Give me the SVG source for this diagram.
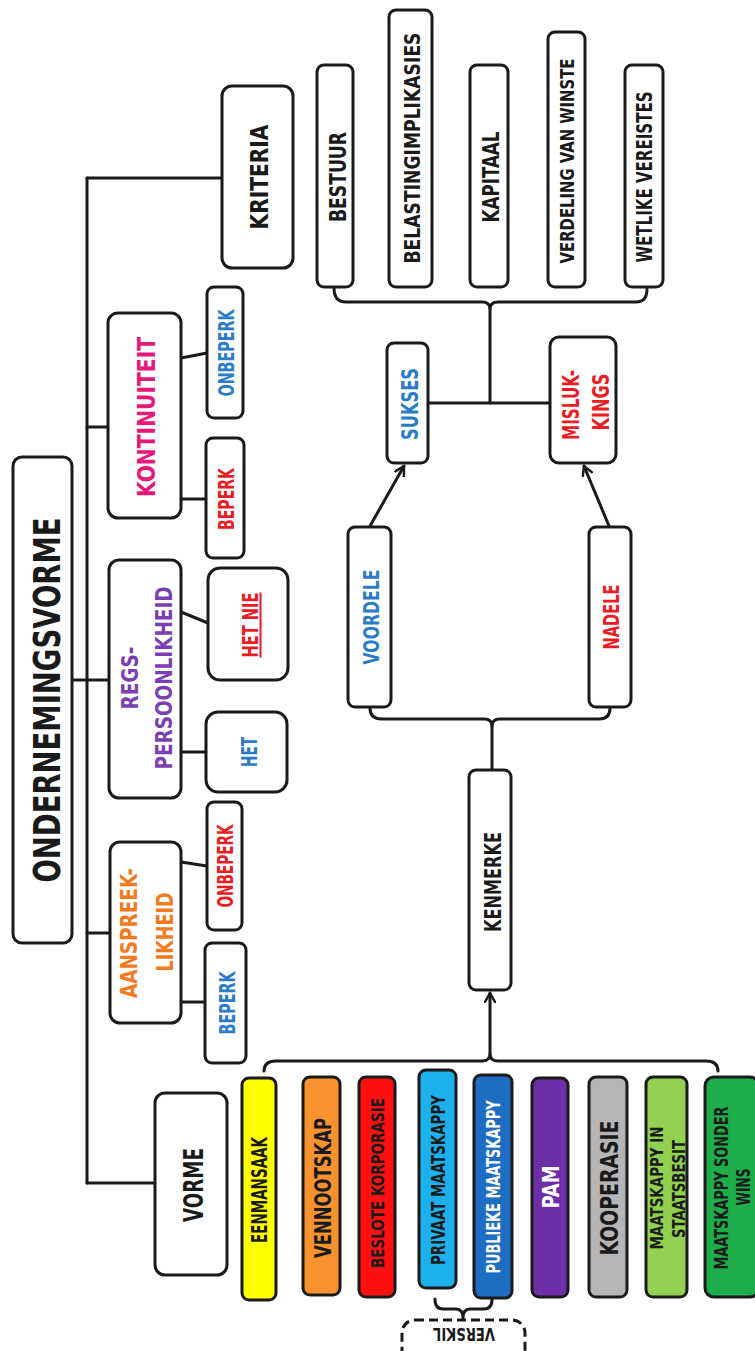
<svg xmlns="http://www.w3.org/2000/svg" width="755" height="1351" viewBox="0 0 755 1351">
<style>
.box{fill:#fff;stroke:#1a1a1a;stroke-width:3;stroke-linejoin:round}
.form{stroke:#1a1a1a;stroke-width:3;stroke-linejoin:round}
.t{font-family:'DejaVu Sans Condensed','DejaVu Sans',sans-serif;font-weight:bold;text-anchor:middle;fill:#1a1a1a}
.ln{fill:none;stroke:#1a1a1a;stroke-width:3;stroke-linecap:round;stroke-linejoin:round}
.blue{fill:#2a7cc9}.red{fill:#ec1c24}.orange{fill:#f37b1f}.purple{fill:#7a3fb2}.magenta{fill:#e6197a}.white{fill:#fff}
</style>
<defs>
<marker id="arr" viewBox="0 0 12 12" refX="10" refY="6" markerWidth="12" markerHeight="12" markerUnits="userSpaceOnUse" orient="auto">
<path d="M1,1 L10,6 L1,11" fill="none" stroke="#1a1a1a" stroke-width="2.5" stroke-linecap="round" stroke-linejoin="round"/>
</marker>
</defs>
<rect width="755" height="1351" fill="#fff"/>

<g id="connectors">
<path class="ln" d="M87,178 V1183"/>
<path class="ln" d="M87,178 H222"/>
<path class="ln" d="M87,427 H108"/>
<path class="ln" d="M68,680 H109"/>
<path class="ln" d="M87,933 H110"/>
<path class="ln" d="M87,1183 H155"/>
<path class="ln" d="M181,358 L207,353"/>
<path class="ln" d="M181,499 H206"/>
<path class="ln" d="M181,612 L208,623"/>
<path class="ln" d="M181,752 H206"/>
<path class="ln" d="M181,862 L207,866"/>
<path class="ln" d="M181,1002 H205"/>
<path class="ln" d="M334,288 Q334,302 346,302 L482,302 Q490,302 490,309 Q490,302 498,302 L636,302 Q647,302 647,289"/>
<path class="ln" d="M490,309 V403"/>
<path class="ln" d="M428,403 H550"/>
<path class="ln" d="M370,526 L404,466" marker-end="url(#arr)"/>
<path class="ln" d="M609,526 L584,466" marker-end="url(#arr)"/>
<path class="ln" d="M370,708 Q370,719 382,719 L484,719 Q492,719 492,726 Q492,719 500,719 L599,719 Q610,719 610,708"/>
<path class="ln" d="M492,726 V770"/>
<path class="ln" d="M264,1071 Q264,1061 276,1061 L482,1061 Q490,1061 490,1054 Q490,1061 498,1061 L706,1061 Q718,1061 718,1071"/>
<path class="ln" d="M490,1054 V993" marker-end="url(#arr)"/>
<path class="ln" d="M435,1299 Q435,1309 443,1309 L456,1309 Q463,1309 463,1318 Q463,1309 470,1309 L484,1309 Q492,1309 492,1299"/>
</g>

<g id="ondernemingsvorme">
<rect class="box" x="13" y="457" width="59" height="486" rx="9"/>
<text class="t" transform="translate(59.5,700) rotate(-90)" font-size="37" textLength="365" lengthAdjust="spacingAndGlyphs">ONDERNEMINGSVORME</text>
</g>

<g id="kriteria">
<rect class="box" x="222" y="86" width="71" height="182" rx="10"/>
<text class="t" transform="translate(268,177) rotate(-90)" font-size="24.7" textLength="105" lengthAdjust="spacingAndGlyphs">KRITERIA</text>
</g>
<g id="bestuur">
<rect class="box" x="317" y="65" width="36" height="222" rx="7"/>
<text class="t" transform="translate(345.5,177) rotate(-90)" font-size="23.3" textLength="90" lengthAdjust="spacingAndGlyphs">BESTUUR</text>
</g>
<g id="belasting">
<rect class="box" x="389" y="10" width="43" height="277" rx="7"/>
<text class="t" transform="translate(420,148) rotate(-90)" font-size="21" textLength="231" lengthAdjust="spacingAndGlyphs">BELASTINGIMPLIKASIES</text>
</g>
<g id="kapitaal">
<rect class="box" x="470" y="65" width="38" height="222" rx="7"/>
<text class="t" transform="translate(498.5,177) rotate(-90)" font-size="23.3" textLength="91" lengthAdjust="spacingAndGlyphs">KAPITAAL</text>
</g>
<g id="verdeling">
<rect class="box" x="548" y="32" width="37" height="255" rx="7"/>
<text class="t" transform="translate(574,161) rotate(-90)" font-size="19.5" textLength="205" lengthAdjust="spacingAndGlyphs">VERDELING VAN WINSTE</text>
</g>
<g id="wetlike">
<rect class="box" x="625" y="65" width="38" height="222" rx="7"/>
<text class="t" transform="translate(652,177) rotate(-90)" font-size="21" textLength="171" lengthAdjust="spacingAndGlyphs">WETLIKE VEREISTES</text>
</g>

<g id="sukses">
<rect class="box" x="387" y="343" width="41" height="120" rx="7"/>
<text class="t blue" transform="translate(417.5,404) rotate(-90)" font-size="23.3" textLength="72" lengthAdjust="spacingAndGlyphs">SUKSES</text>
</g>
<g id="mislukkings">
<rect class="box" x="550" y="337" width="66" height="126" rx="9"/>
<text class="t red" transform="translate(578.5,405) rotate(-90)" font-size="23.3" textLength="70" lengthAdjust="spacingAndGlyphs">MISLUK-</text>
<text class="t red" transform="translate(608.5,402) rotate(-90)" font-size="23.3" textLength="57" lengthAdjust="spacingAndGlyphs">KINGS</text>
</g>
<g id="voordele">
<rect class="box" x="348" y="527" width="43" height="180" rx="7"/>
<text class="t blue" transform="translate(379,617) rotate(-90)" font-size="22" textLength="95" lengthAdjust="spacingAndGlyphs">VOORDELE</text>
</g>
<g id="nadele">
<rect class="box" x="589" y="527" width="42" height="180" rx="7"/>
<text class="t red" transform="translate(619,617) rotate(-90)" font-size="22" textLength="65" lengthAdjust="spacingAndGlyphs">NADELE</text>
</g>
<g id="kenmerke">
<rect class="box" x="469" y="770" width="42" height="220" rx="7"/>
<text class="t" transform="translate(500.5,882) rotate(-90)" font-size="23.3" textLength="100" lengthAdjust="spacingAndGlyphs">KENMERKE</text>
</g>

<g id="kontinuiteit">
<rect class="box" x="108" y="313" width="73" height="205" rx="10"/>
<text class="t magenta" transform="translate(155,417) rotate(-90)" font-size="24.7" textLength="160" lengthAdjust="spacingAndGlyphs">KONTINUITEIT</text>
</g>
<g id="kont-onbeperk">
<rect class="box" x="207" y="287" width="36" height="131" rx="7"/>
<text class="t blue" transform="translate(234,353) rotate(-90)" font-size="22" textLength="87" lengthAdjust="spacingAndGlyphs">ONBEPERK</text>
</g>
<g id="kont-beperk">
<rect class="box" x="206" y="438" width="38" height="120" rx="7"/>
<text class="t red" transform="translate(234,499) rotate(-90)" font-size="22" textLength="62" lengthAdjust="spacingAndGlyphs">BEPERK</text>
</g>

<g id="regspersoonlikheid">
<rect class="box" x="109" y="560" width="72" height="238" rx="10"/>
<text class="t purple" transform="translate(137.5,678) rotate(-90)" font-size="23.3" textLength="63" lengthAdjust="spacingAndGlyphs">REGS-</text>
<text class="t purple" transform="translate(171.5,678) rotate(-90)" font-size="23.3" textLength="183" lengthAdjust="spacingAndGlyphs">PERSOONLIKHEID</text>
</g>
<g id="het-nie">
<rect class="box" x="208" y="568" width="80" height="112" rx="12"/>
<text class="t red" transform="translate(257.5,625) rotate(-90)" font-size="20.5" textLength="65" lengthAdjust="spacingAndGlyphs" text-decoration="underline">HET NIE</text>
</g>
<g id="het">
<rect class="box" x="206" y="712" width="81" height="80" rx="12"/>
<text class="t blue" transform="translate(256.5,752) rotate(-90)" font-size="20.5" textLength="30" lengthAdjust="spacingAndGlyphs">HET</text>
</g>

<g id="aanspreeklikheid">
<rect class="box" x="110" y="842" width="71" height="181" rx="10"/>
<text class="t orange" transform="translate(136.5,933) rotate(-90)" font-size="23.3" textLength="130" lengthAdjust="spacingAndGlyphs">AANSPREEK-</text>
<text class="t orange" transform="translate(172.5,932) rotate(-90)" font-size="23.3" textLength="79" lengthAdjust="spacingAndGlyphs">LIKHEID</text>
</g>
<g id="aansp-onbeperk">
<rect class="box" x="207" y="802" width="35" height="128" rx="7"/>
<text class="t red" transform="translate(233,866) rotate(-90)" font-size="22" textLength="83" lengthAdjust="spacingAndGlyphs">ONBEPERK</text>
</g>
<g id="aansp-beperk">
<rect class="box" x="205" y="943" width="41" height="120" rx="7"/>
<text class="t blue" transform="translate(235,1003) rotate(-90)" font-size="22" textLength="63" lengthAdjust="spacingAndGlyphs">BEPERK</text>
</g>

<g id="vorme">
<rect class="box" x="155" y="1093" width="72" height="182" rx="10"/>
<text class="t" transform="translate(203,1185) rotate(-90)" font-size="27.4" textLength="74" lengthAdjust="spacingAndGlyphs">VORME</text>
</g>

<g id="eenmansaak">
<rect class="form" x="242" y="1078" width="34" height="222" rx="7" fill="#ffff00"/>
<text class="t" transform="translate(266.5,1190) rotate(-90)" font-size="20.5" textLength="106" lengthAdjust="spacingAndGlyphs">EENMANSAAK</text>
</g>
<g id="vennootskap">
<rect class="form" x="303" y="1077" width="37" height="218" rx="7" fill="#f7922e"/>
<text class="t" transform="translate(330.5,1188) rotate(-90)" font-size="23.3" textLength="140" lengthAdjust="spacingAndGlyphs">VENNOOTSKAP</text>
</g>
<g id="beslote-korporasie">
<rect class="form" x="359" y="1077" width="36" height="220" rx="7" fill="#ff1010"/>
<text class="t" transform="translate(383.5,1183) rotate(-90)" font-size="17.8" textLength="170" lengthAdjust="spacingAndGlyphs">BESLOTE KORPORASIE</text>
</g>
<g id="privaat-maatskappy">
<rect class="form" x="419" y="1070" width="37" height="218" rx="7" fill="#1cb1ec"/>
<text class="t" transform="translate(445,1180) rotate(-90)" font-size="19.2" textLength="170" lengthAdjust="spacingAndGlyphs">PRIVAAT MAATSKAPPY</text>
</g>
<g id="publieke-maatskappy">
<rect class="form" x="474" y="1075" width="38" height="223" rx="7" fill="#1d6dc2"/>
<text class="t white" transform="translate(500,1187) rotate(-90)" font-size="19.2" textLength="173" lengthAdjust="spacingAndGlyphs">PUBLIEKE MAATSKAPPY</text>
</g>
<g id="pam">
<rect class="form" x="532" y="1078" width="36" height="219" rx="7" fill="#6e2ea8"/>
<text class="t white" transform="translate(558.5,1187) rotate(-90)" font-size="23.3" textLength="43" lengthAdjust="spacingAndGlyphs">PAM</text>
</g>
<g id="kooperasie">
<rect class="form" x="589" y="1077" width="38" height="220" rx="7" fill="#b5b5b5"/>
<text class="t" transform="translate(618,1188) rotate(-90)" font-size="24.7" textLength="135" lengthAdjust="spacingAndGlyphs">KOOPERASIE</text>
</g>
<g id="maatskappy-staatsbesit">
<rect class="form" x="646" y="1077" width="41" height="220" rx="7" fill="#92d050"/>
<text class="t" transform="translate(662.5,1188) rotate(-90)" font-size="17.8" textLength="123" lengthAdjust="spacingAndGlyphs">MAATSKAPPY IN</text>
<text class="t" transform="translate(684.5,1189) rotate(-90)" font-size="17.8" textLength="98" lengthAdjust="spacingAndGlyphs">STAATSBESIT</text>
</g>
<g id="maatskappy-sonder-wins">
<rect class="form" x="705" y="1077" width="54" height="220" rx="9" fill="#1dae4b"/>
<text class="t" transform="translate(728,1188) rotate(-90)" font-size="19.2" textLength="163" lengthAdjust="spacingAndGlyphs">MAATSKAPPY SONDER</text>
<text class="t" transform="translate(750,1187) rotate(-90)" font-size="19.2" textLength="37" lengthAdjust="spacingAndGlyphs">WINS</text>
</g>

<g id="verskil">
<rect x="402" y="1320" width="123" height="50" rx="13" fill="#fff" stroke="#1a1a1a" stroke-width="3" stroke-dasharray="9 5"/>
<text class="t" transform="translate(464,1327.5) rotate(180)" font-size="17.8" textLength="62" lengthAdjust="spacingAndGlyphs">VERSKIL</text>
</g>
</svg>
